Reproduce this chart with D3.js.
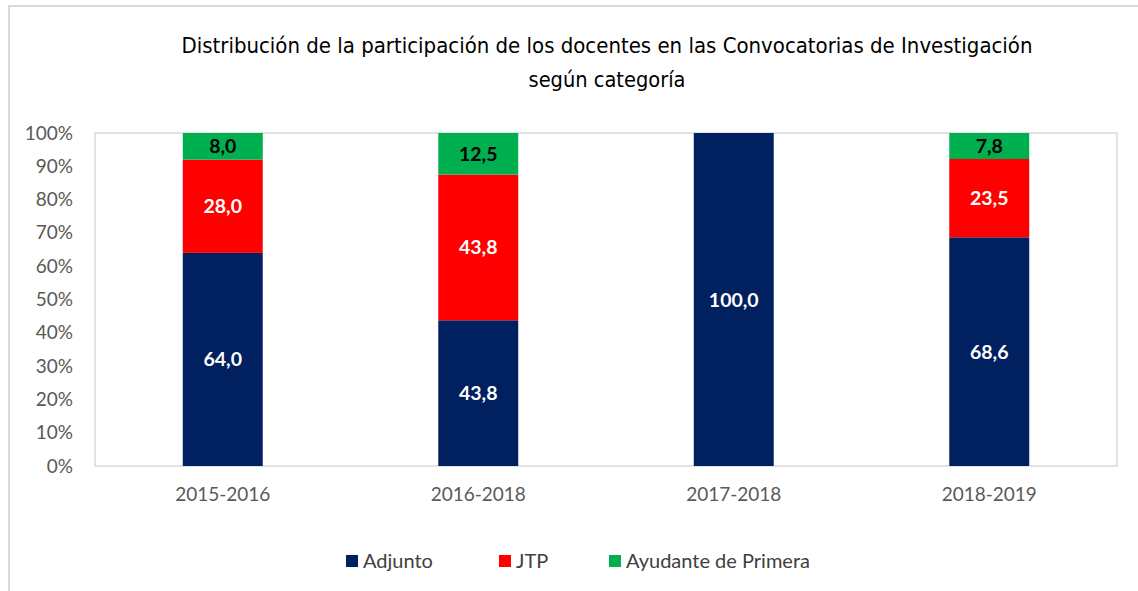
<!DOCTYPE html>
<html>
<head>
<meta charset="utf-8">
<script src="https://cdn.jsdelivr.net/npm/d3@7"></script>
<style>
  html, body { margin: 0; padding: 0; background: #fff; }
</style>
</head>
<body>
<script>
const WIDTH = 1138;
const HEIGHT = 591;
const PLOT = { left: 95, right: 1117, top: 133, bottom: 466 };
const FONT = "Lato, 'Open Sans', sans-serif";

// data
const categories = ["2015-2016", "2016-2018", "2017-2018", "2018-2019"];
const seriesNames = ["Adjunto", "JTP", "Ayudante de Primera"];
const adjunto = [64.0, 43.8, 100.0, 68.6];
const jtp = [28.0, 43.8, 0, 23.5];
const ayudante = [8.0, 12.5, 0, 7.8];
const yTicks = [0, 0.1, 0.2, 0.3, 0.4, 0.5, 0.6, 0.7, 0.8, 0.9, 1.0];
const titleLines = [
  "Distribución de la participación de los docentes en las Convocatorias de Investigación",
  "según categoría"
];

const colors = ["#002060", "#FF0000", "#00B050"];
const labelColors = ["#ffffff", "#ffffff", "#000000"];

// one row per category, normalised to 100% like an Excel 100% stacked column
const rows = categories.map((c, i) => {
  const total = adjunto[i] + jtp[i] + ayudante[i];
  return {
    category: c,
    "Adjunto": adjunto[i] / total,
    "JTP": jtp[i] / total,
    "Ayudante de Primera": ayudante[i] / total,
    raw: [adjunto[i], jtp[i], ayudante[i]]
  };
});

const stack = d3.stack().keys(seriesNames)(rows);

const locale = d3.formatLocale({ decimal: ",", thousands: ".", grouping: [3], currency: ["$", ""] });
const fmtVal = locale.format(".1f");

const x = d3.scaleBand()
  .domain(categories)
  .range([PLOT.left, PLOT.right])
  .paddingInner(0.687)
  .paddingOuter(0.687 / 2);

const y = d3.scaleLinear()
  .domain([0, 1])
  .range([PLOT.bottom, PLOT.top]);

const svg = d3.select("body").append("svg")
  .attr("width", WIDTH)
  .attr("height", HEIGHT)
  .attr("viewBox", `0 0 ${WIDTH} ${HEIGHT}`);

svg.append("rect").attr("width", WIDTH).attr("height", HEIGHT).attr("fill", "#fff");

// chart area border (only left and top visible in the crop)
svg.append("rect")
  .attr("x", 9).attr("y", 6)
  .attr("width", WIDTH + 20).attr("height", HEIGHT + 20)
  .attr("fill", "none")
  .attr("stroke", "#d9d9d9")
  .attr("stroke-width", 2);

// plot area border
svg.append("rect")
  .attr("x", PLOT.left).attr("y", PLOT.top)
  .attr("width", PLOT.right - PLOT.left)
  .attr("height", PLOT.bottom - PLOT.top)
  .attr("fill", "none")
  .attr("stroke", "#d9d9d9")
  .attr("stroke-width", 1.5);

// title (narrow face squeezed to the reference width)
const title = svg.append("text")
  .attr("text-anchor", "middle")
  .attr("font-family", "'DejaVu Sans Condensed', 'Liberation Sans Narrow', sans-serif")
  .attr("font-size", "21px")
  .attr("font-weight", "500")
  .attr("fill", "#000");
title.append("tspan").attr("x", 607).attr("y", 53)
  .attr("textLength", 851).attr("lengthAdjust", "spacingAndGlyphs")
  .text(titleLines[0]);
title.append("tspan").attr("x", 607).attr("y", 87)
  .attr("textLength", 157).attr("lengthAdjust", "spacingAndGlyphs")
  .text(titleLines[1]);

// bars
const layers = svg.append("g").selectAll("g")
  .data(stack)
  .join("g")
  .attr("fill", (d, i) => colors[i]);

layers.selectAll("rect")
  .data(d => d)
  .join("rect")
  .attr("x", d => x(d.data.category))
  .attr("y", d => y(d[1]))
  .attr("width", x.bandwidth())
  .attr("height", d => y(d[0]) - y(d[1]));

// data labels
stack.forEach((layer, si) => {
  svg.append("g").selectAll("text")
    .data(layer.filter(d => d.data.raw[si] > 0))
    .join("text")
    .attr("x", d => x(d.data.category) + x.bandwidth() / 2)
    .attr("y", d => (y(d[0]) + y(d[1])) / 2)
    .attr("dy", "0.36em")
    .attr("text-anchor", "middle")
    .attr("font-family", FONT)
    .attr("font-weight", "bold")
    .attr("font-size", "19.5px")
    .attr("fill", labelColors[si])
    .text(d => fmtVal(d.data.raw[si]));
});

// y axis
const yAxis = svg.append("g")
  .attr("transform", `translate(${PLOT.left},0)`)
  .call(d3.axisLeft(y).tickValues(yTicks).tickFormat(d3.format(".0%")).tickSize(0).tickPadding(22));
yAxis.select(".domain").remove();
yAxis.selectAll("text")
  .attr("font-family", FONT)
  .attr("font-size", "19px")
  .attr("fill", "#595959");

// x axis
const xAxis = svg.append("g")
  .attr("transform", `translate(0,${PLOT.bottom})`)
  .call(d3.axisBottom(x).tickSize(0).tickPadding(22));
xAxis.select(".domain").remove();
xAxis.selectAll("text")
  .attr("font-family", FONT)
  .attr("font-size", "19px")
  .attr("fill", "#595959");

// legend
const legendX = [346, 499, 609];
const legend = svg.append("g").selectAll("g")
  .data(seriesNames)
  .join("g")
  .attr("transform", (d, i) => `translate(${legendX[i]},555)`);
legend.append("rect")
  .attr("width", 12).attr("height", 12)
  .attr("fill", (d, i) => colors[i]);
legend.append("text")
  .attr("x", 17).attr("y", 6).attr("dy", "0.36em")
  .attr("font-family", FONT)
  .attr("font-size", "20px")
  .attr("fill", "#404040")
  .text(d => d);
</script>
</body>
</html>
